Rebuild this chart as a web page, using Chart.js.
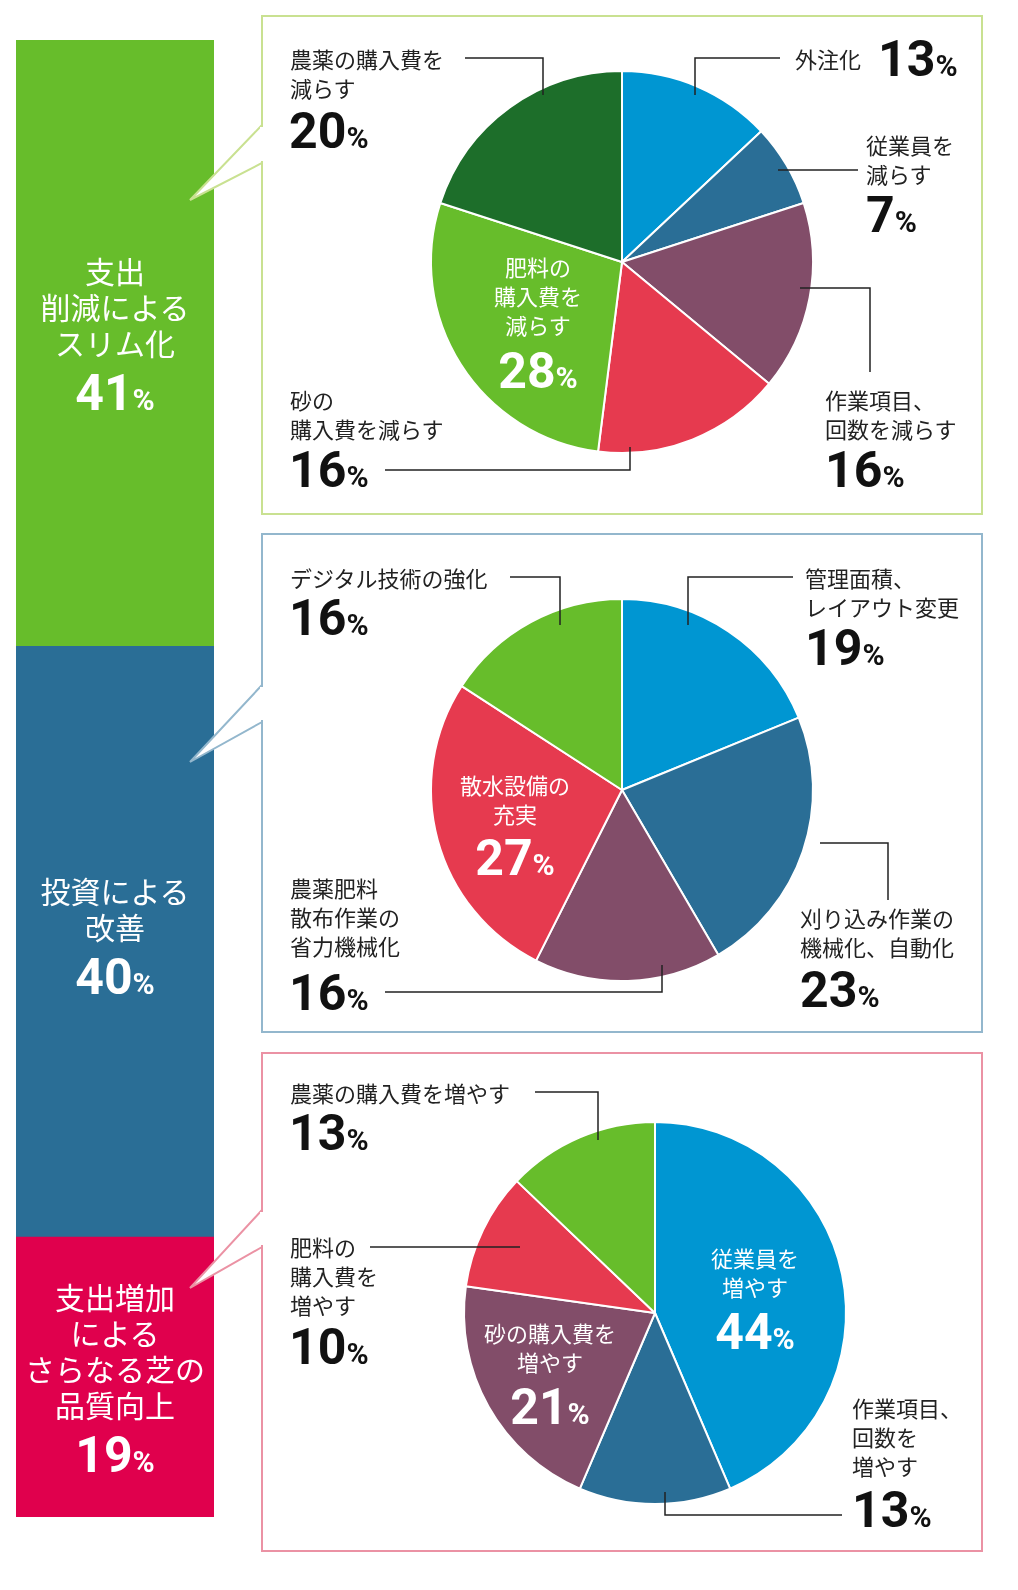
<!DOCTYPE html>
<html><head><meta charset="utf-8">
<script src="https://cdn.jsdelivr.net/npm/chart.js@4"></script>
<style>
body{margin:0;width:1018px;height:1590px;background:#fff;position:relative;font-family:"Noto Sans CJK JP",sans-serif;overflow:hidden}
.abs{position:absolute}
.box{position:absolute;left:261px;width:722px;height:500px;box-sizing:border-box;border:2px solid}
.t{position:absolute;font-size:22px;line-height:29px;color:#222;white-space:nowrap}
.w{color:#fff;text-align:center}
.p{position:absolute;font-family:"Liberation Sans Narrow","Roboto",sans-serif;font-weight:bold;font-size:50px;line-height:50px;color:#111;white-space:nowrap}
.p small{font-size:30px}
.bl{position:absolute;left:16px;width:198px;text-align:center;color:#fff;font-size:30px;line-height:36px}
.bl .p{position:static;color:#fff;display:block;margin-top:8px}
svg{position:absolute;left:0;top:0}
</style></head><body>
<div class="box" style="top:15px;border-color:#c9e191"></div>
<div class="box" style="top:533px;border-color:#93b7cd"></div>
<div class="box" style="top:1052px;border-color:#eb92a4"></div>
<div class="abs" style="left:16px;top:40px;width:198px;height:1477px"><canvas id="bar" width="198" height="1477"></canvas></div>
<div class="abs" style="left:422px;top:62px"><canvas id="pie1" width="400" height="400"></canvas></div>
<div class="abs" style="left:422px;top:590px"><canvas id="pie2" width="400" height="400"></canvas></div>
<div class="abs" style="left:455px;top:1113px"><canvas id="pie3" width="400" height="400"></canvas></div>
<svg width="1018" height="1590" fill="none" stroke="#222" stroke-width="1.5">
 <polygon points="262,125 190,200 262,163" fill="#fff" stroke="#c9e191" stroke-width="2"/>
 <line x1="262" y1="127" x2="262" y2="161" stroke="#fff" stroke-width="4"/>
 <polygon points="262,685 190,762 262,722" fill="#fff" stroke="#93b7cd" stroke-width="2"/>
 <line x1="262" y1="687" x2="262" y2="720" stroke="#fff" stroke-width="4"/>
 <polygon points="262,1210 190,1288 262,1247" fill="#fff" stroke="#eb92a4" stroke-width="2"/>
 <line x1="262" y1="1212" x2="262" y2="1245" stroke="#fff" stroke-width="4"/>
 <polyline points="465,58 543,58 543,95"/>
 <polyline points="780,58 695,58 695,95"/>
 <polyline points="778,170 858,170"/>
 <polyline points="800,288 870,288 870,372"/>
 <polyline points="385,470 630,470 630,447"/>
 <polyline points="510,577 560,577 560,625"/>
 <polyline points="793,577 688,577 688,625"/>
 <polyline points="820,843 888,843 888,900"/>
 <polyline points="385,992 662,992 662,965"/>
 <polyline points="535,1092 598,1092 598,1140"/>
 <polyline points="370,1247 520,1247"/>
 <polyline points="665,1492 665,1515 842,1515"/>
</svg>
<div class="bl" style="top:252px">支出<br>削減による<br>スリム化<span class="p">41<small>%</small></span></div>
<div class="bl" style="top:872px">投資による<br>改善<span class="p">40<small>%</small></span></div>
<div class="bl" style="top:1278px">支出増加<br>による<br>さらなる芝の<br>品質向上<span class="p">19<small>%</small></span></div>

<div class="t" style="left:290px;top:44px">農薬の購入費を<br>減らす</div><div class="p" style="left:289px;top:106px">20<small>%</small></div>
<div class="t" style="left:795px;top:44px">外注化</div><div class="p" style="left:878px;top:34px">13<small>%</small></div>
<div class="t" style="left:866px;top:130px">従業員を<br>減らす</div><div class="p" style="left:866px;top:190px">7<small>%</small></div>
<div class="t" style="left:825px;top:385px">作業項目、<br>回数を減らす</div><div class="p" style="left:825px;top:445px">16<small>%</small></div>
<div class="t" style="left:290px;top:385px">砂の<br>購入費を減らす</div><div class="p" style="left:289px;top:445px">16<small>%</small></div>
<div class="t w" style="left:478px;top:252px;width:120px">肥料の<br>購入費を<br>減らす</div><div class="p w" style="left:478px;top:346px;width:120px;color:#fff">28<small>%</small></div>

<div class="t" style="left:290px;top:563px">デジタル技術の強化</div><div class="p" style="left:289px;top:593px">16<small>%</small></div>
<div class="t" style="left:805px;top:563px">管理面積、<br>レイアウト変更</div><div class="p" style="left:805px;top:623px">19<small>%</small></div>
<div class="t" style="left:800px;top:903px">刈り込み作業の<br>機械化、自動化</div><div class="p" style="left:800px;top:965px">23<small>%</small></div>
<div class="t" style="left:290px;top:873px">農薬肥料<br>散布作業の<br>省力機械化</div><div class="p" style="left:289px;top:968px">16<small>%</small></div>
<div class="t w" style="left:445px;top:770px;width:140px">散水設備の<br>充実</div><div class="p w" style="left:445px;top:833px;width:140px;color:#fff">27<small>%</small></div>

<div class="t" style="left:290px;top:1078px">農薬の購入費を増やす</div><div class="p" style="left:289px;top:1108px">13<small>%</small></div>
<div class="t" style="left:290px;top:1232px">肥料の<br>購入費を<br>増やす</div><div class="p" style="left:289px;top:1322px">10<small>%</small></div>
<div class="t" style="left:852px;top:1393px">作業項目、<br>回数を<br>増やす</div><div class="p" style="left:852px;top:1485px">13<small>%</small></div>
<div class="t w" style="left:695px;top:1243px;width:120px">従業員を<br>増やす</div><div class="p w" style="left:695px;top:1307px;width:120px;color:#fff">44<small>%</small></div>
<div class="t w" style="left:470px;top:1318px;width:160px">砂の購入費を<br>増やす</div><div class="p w" style="left:470px;top:1382px;width:160px;color:#fff">21<small>%</small></div>

<script>
// stacked bar on the left
const barLabels = ['支出削減によるスリム化', '投資による改善', '支出増加によるさらなる芝の品質向上'];
const barValues = [41, 40, 19];
const barColors = ['#67bd2b', '#2a6e96', '#e0004d'];

// pie 1: 支出削減
const pie1Labels = ['外注化', '従業員を減らす', '作業項目、回数を減らす', '砂の購入費を減らす', '肥料の購入費を減らす', '農薬の購入費を減らす'];
const pie1Values = [13, 7, 16, 16, 28, 20];
const pie1Colors = ['#0096d2', '#2a6e96', '#824d69', '#e63a4f', '#67bd2b', '#1d6e2a'];

// pie 2: 投資
const pie2Labels = ['管理面積、レイアウト変更', '刈り込み作業の機械化、自動化', '農薬肥料散布作業の省力機械化', '散水設備の充実', 'デジタル技術の強化'];
const pie2Values = [19, 23, 16, 27, 16];
const pie2Colors = ['#0096d2', '#2a6e96', '#824d69', '#e63a4f', '#67bd2b'];

// pie 3: 支出増加
const pie3Labels = ['従業員を増やす', '作業項目、回数を増やす', '砂の購入費を増やす', '肥料の購入費を増やす', '農薬の購入費を増やす'];
const pie3Values = [44, 13, 21, 10, 13];
const pie3Colors = ['#0096d2', '#2a6e96', '#824d69', '#e63a4f', '#67bd2b'];

const noExtras = {legend: {display: false}, tooltip: {enabled: false}};

new Chart(document.getElementById('bar'), {
  type: 'bar',
  data: {
    labels: [''],
    datasets: barValues.map((v, i) => ({label: barLabels[i], data: [v], backgroundColor: barColors[i],
      borderWidth: 0, barPercentage: 1, categoryPercentage: 1}))
  },
  options: {
    responsive: false, animation: false,
    plugins: noExtras,
    scales: {
      x: {stacked: true, display: false},
      y: {stacked: true, display: false, reverse: true, min: 0, max: 100}
    }
  }
});

function makePie(id, labels, values, colors) {
  new Chart(document.getElementById(id), {
    type: 'pie',
    data: {labels: labels, datasets: [{data: values, backgroundColor: colors, borderColor: '#fff', borderWidth: 2}]},
    options: {responsive: false, animation: false, layout: {padding: 8}, plugins: noExtras}
  });
}
makePie('pie1', pie1Labels, pie1Values, pie1Colors);
makePie('pie2', pie2Labels, pie2Values, pie2Colors);
makePie('pie3', pie3Labels, pie3Values, pie3Colors);
</script>
</body></html>
